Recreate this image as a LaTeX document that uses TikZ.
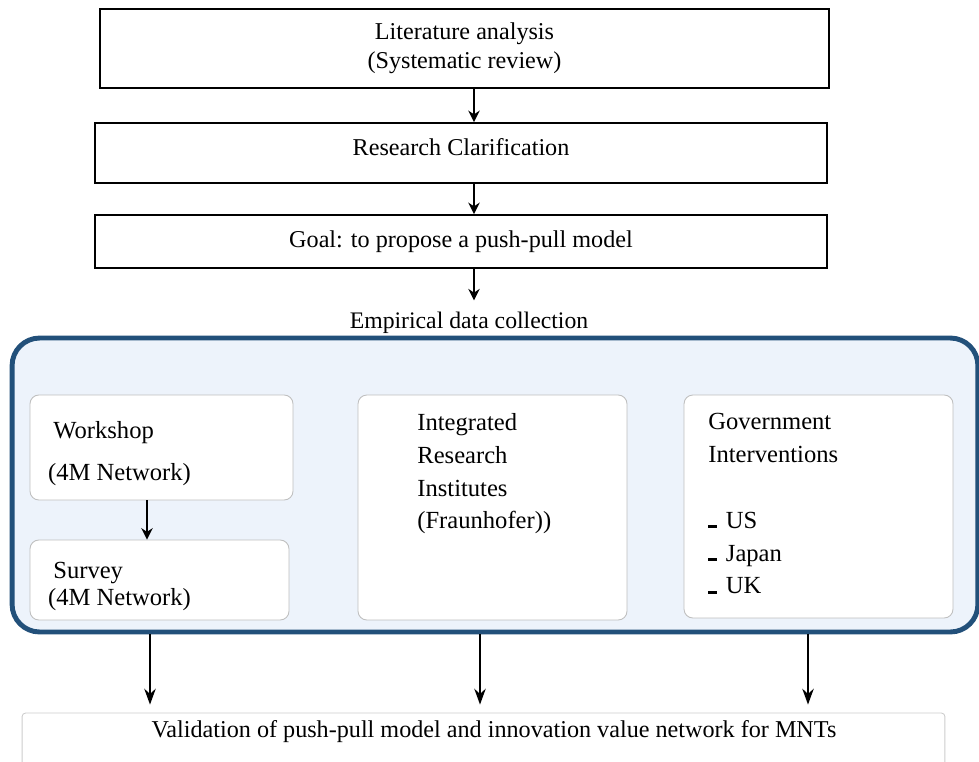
\documentclass[tikz,border=0pt]{standalone}
\usepackage{fontspec}
\setmainfont{Liberation Serif}
\usetikzlibrary{arrows.meta, positioning}
\definecolor{panelblue}{RGB}{34,80,122}
\definecolor{panelfill}{RGB}{237,243,251}

\begin{document}
\begin{tikzpicture}[
    x=0.02cm, y=-0.02cm,
    every node/.style={font=\fontsize{13.75}{16.5}\selectfont},
    stepbox/.style={draw=black, line width=1.1pt, inner sep=0pt, align=center},
    subbox/.style={draw=black!25, line width=0.5pt, fill=white, rounded corners=5pt, inner sep=0pt},
    subtext/.style={font=\fontsize{14}{18.7}\selectfont, align=left, anchor=north west, inner sep=0pt},
    flow/.style={-{Stealth[length=6.5pt, width=6.5pt]}, line width=1.1pt},
    longflow/.style={-{Stealth[length=9pt, width=6.5pt]}, line width=1.1pt}
]

\useasboundingbox (0,0) rectangle (979,761);

% Columns for the connectors
\coordinate (spine) at (474,0);
\coordinate (colW) at (147,0);
\coordinate (colA) at (150,0);
\coordinate (colB) at (480,0);
\coordinate (colC) at (808,0);

% Top chain
\node[stepbox, minimum width=14.58cm, minimum height=1.58cm] (lit) at (464.5,48.5)
    {Literature analysis\\(Systematic review)};
\node[stepbox, minimum width=14.64cm, minimum height=1.2cm] (clar) at (461,153) {};
\node[anchor=base] (clartxt) at (461,155) {Research Clarification};
\node[stepbox, minimum width=14.64cm, minimum height=1.06cm] (goal) at (461,241.5)
    {Goal: to propose a push-pull model};
\node[font=\fontsize{13.5}{16}\selectfont, anchor=base] (emp) at (469,328) {Empirical data collection};

\draw[flow] (lit.south -| spine) -- (clar.north -| spine);
\draw[flow] (clar.south -| spine) -- (goal.north -| spine);
\draw[flow, shorten >=0.1cm] (goal.south -| spine) -- (emp.north -| spine);

% Data collection panel
\node[draw=panelblue, line width=2.8pt, fill=panelfill, rounded corners=0.55cm,
      minimum width=19.32cm, minimum height=5.88cm, inner sep=0pt] (panel) at (495,485) {};

% Workshop and survey
\node[subbox, minimum width=5.26cm, minimum height=2.1cm] (work) at (161.5,447.5) {};
\node[subtext] (worktxt) at (53,421) {Workshop\\[5pt]\hspace{-3pt}(4M Network)};
\node[subbox, minimum width=5.18cm, minimum height=1.6cm] (surv) at (159.5,580) {};
\node[subtext, font=\fontsize{14}{15}\selectfont] (survtxt) at (53,562) {Survey\\\hspace{-3pt}(4M Network)};
\draw[flow] (work.south -| colW) -- (surv.north -| colW);

% Research institutes
\node[subbox, minimum width=5.38cm, minimum height=4.5cm] (inst) at (492.5,507.5) {};
\node[subtext] (insttxt) at (417,413) {Integrated\\Research\\Institutes\\(Fraunhofer))};

% Government interventions
\node[subbox, minimum width=5.38cm, minimum height=4.46cm] (gov) at (818.5,506.5) {};
\node[subtext] (govtxt) at (708,413)
    {Government\\Interventions\\[18.7pt]
     \rule{5pt}{1.6pt}\hspace{5pt}US\\
     \rule{5pt}{1.6pt}\hspace{5pt}Japan\\
     \rule{5pt}{1.6pt}\hspace{5pt}UK};

% Validation
\node[draw=black!20, line width=0.5pt, rounded corners=2pt, inner sep=0pt,
      minimum width=18.46cm, minimum height=1.54cm] (valid) at (483.5,751.5) {};
\node[anchor=base] (validtxt) at (494,737) {Validation of push-pull model and innovation value network for MNTs};

\draw[longflow, shorten >=0.16cm] (panel.south -| colA) -- (valid.north -| colA);
\draw[longflow, shorten >=0.16cm] (panel.south -| colB) -- (valid.north -| colB);
\draw[longflow, shorten >=0.16cm] (panel.south -| colC) -- (valid.north -| colC);

\end{tikzpicture}
\end{document}
